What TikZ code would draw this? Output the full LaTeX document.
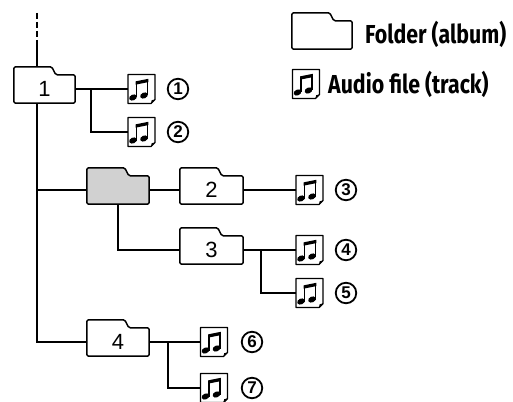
\documentclass[tikz,border=0pt]{standalone}
\usepackage{fontspec}
\setmainfont{Liberation Sans}
\newfontfamily\legendfont[FakeStretch=0.82]{Fira Sans}
\tikzset{
  x=1pt, y=-1pt,
  conn/.style={line width=2.8pt},
  outline/.style={line width=1.5pt, rounded corners=1.5pt, line join=round},
  fbody/.style={rectangle, minimum width=#1, minimum height=28pt, inner sep=0pt, font=\fontsize{22}{22}\selectfont},
  noteb/.style={rectangle, minimum width=27pt, minimum height=29pt, inner sep=0pt},
  num/.style={circle, draw, line width=1.8pt, minimum size=20.5pt, inner sep=0pt, font=\fontsize{17}{17}\selectfont\bfseries},
  legend/.style={anchor=west, inner sep=0pt, font=\legendfont\bfseries\fontsize{26}{26}\selectfont}
}
\newcommand\foldershape[2][]{%
  \draw[outline,#1] (#2.south west) -- ([yshift=8pt]#2.north west) -- ([xshift=38pt,yshift=8pt]#2.north west) -- ([xshift=42pt]#2.north west) -- (#2.north east) -- (#2.south east) -- cycle;}
\newcommand\noteicon[1]{%
  \begin{scope}[shift={(#1.center)}]
    \draw[line width=1.4pt, line join=round] (-13.5,-14.5) -- (13.5,-14.5) -- (13.5,10.5) -- (9.5,14.5) -- (-13.5,14.5) -- cycle;
    \fill (13.5,10.5) -- (9.5,14.5) -- (10.2,11.2) -- cycle;
    \fill[rotate around={25:(-8.5,8.5)}] (-8.5,8.5) ellipse [x radius=4pt, y radius=2.9pt];
    \fill[rotate around={25:(2.5,6.5)}] (2.5,6.5) ellipse [x radius=4pt, y radius=2.9pt];
    \draw[line width=1.7pt] (-5.1,8.5) -- (-5.1,-6);
    \draw[line width=1.7pt] (5.9,6.5) -- (5.9,-8.5);
    \fill (-6,-4.3) -- (-6,-7.6) -- (6.8,-10.2) -- (6.8,-6.9) -- cycle;
  \end{scope}}
\begin{document}
\begin{tikzpicture}
\useasboundingbox (0,0) rectangle (513,401);
% folders
\node[fbody=61pt] (f1) at (44.5,89) {1};
\node[fbody=62pt] (g) at (118,190) {};
\node[fbody=63pt] (f2) at (211.5,190) {2};
\node[fbody=63pt] (f3) at (211.5,250) {3};
\node[fbody=62pt] (f4) at (118,342) {4};
% notes
\node[noteb] (n1) at (141.5,89) {};
\node[noteb] (n2) at (141.5,132) {};
\node[noteb] (n3) at (309.5,190) {};
\node[noteb] (n4) at (309.5,250) {};
\node[noteb] (n5) at (309.5,293) {};
\node[noteb] (n6) at (214,342) {};
\node[noteb] (n7) at (214,388) {};
% numbers
\node[num] (c1) at (178,89) {1};
\node[num] (c2) at (178,132) {2};
\node[num] (c3) at (346,190) {3};
\node[num] (c4) at (346,250) {4};
\node[num] (c5) at (346,293) {5};
\node[num] (c6) at (252,342) {6};
\node[num] (c7) at (252,388) {7};
% coordinates
\coordinate (top) at (37,13);
\coordinate (dashend) at (37,40);
\coordinate (f1tab) at (37,67);
\coordinate (trunk) at (37,0);
\coordinate (bx1) at (91,0);
\coordinate (bx3) at (261,0);
\coordinate (bx4) at (168,0);
% connectors
\draw[conn, dash pattern=on 6pt off 3pt] (top) -- (dashend);
\draw[conn] (dashend) -- (f1tab);
\draw[conn] (trunk |- f1.south) -- (trunk |- f4.west) -- (f4.west);
\draw[conn] (trunk |- g.west) -- (g.west);
\draw[conn] (f1.east) -- (n1.west);
\draw[conn] (bx1 |- f1.east) |- (n2.west);
\draw[conn] (g.east) -- (f2.west);
\draw[conn] (f2.east) -- (n3.west);
\draw[conn] (g.south) |- (f3.west);
\draw[conn] (f3.east) -- (n4.west);
\draw[conn] (bx3 |- f3.east) |- (n5.west);
\draw[conn] (f4.east) -- (n6.west);
\draw[conn] (bx4 |- f4.east) |- (n7.west);
% shapes
\foldershape{f1}
\foldershape[fill=black!18]{g}
\foldershape{f2}
\foldershape{f3}
\foldershape{f4}
\foreach \n in {n1,n2,n3,n4,n5,n6,n7} {\noteicon{\n}}
% legend
\node[fbody=60pt] (lf) at (322,35) {};
\foldershape{lf}
\node[legend] (lft) at (365,34) {Folder (album)};
\node[noteb, minimum height=27pt, minimum width=28pt] (ln) at (306,84) {};
\noteicon{ln}
\node[legend] (lnt) at (328,84) {Audio file (track)};
\end{tikzpicture}
\end{document}
